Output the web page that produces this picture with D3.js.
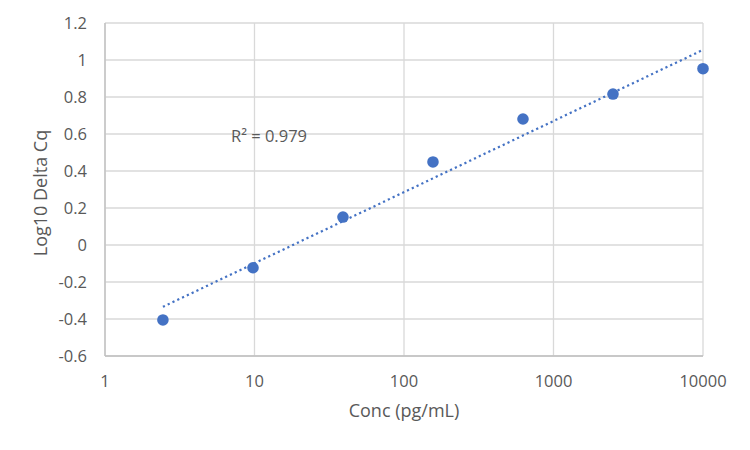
<!DOCTYPE html>
<html><head><meta charset="utf-8">
<script src="https://cdn.jsdelivr.net/npm/d3@7"></script>
<style>body{margin:0;background:#fff}svg{display:block}</style>
</head><body>
<svg id="c" width="750" height="450"></svg>
<script>
const conc = [2.44, 9.77, 39.06, 156.25, 625, 2500, 10000];
const log10DeltaCq = [-0.405, -0.123, 0.151, 0.449, 0.681, 0.816, 0.953];
const xTicks = [1, 10, 100, 1000, 10000];
const yTicks = [-0.6, -0.4, -0.2, 0, 0.2, 0.4, 0.6, 0.8, 1, 1.2];
const r2Label = "R² = 0.979";

const svg = d3.select("#c");
const L = 105, R = 703, T = 23, B = 356;
const x = d3.scaleLog().domain([1, 10000]).range([L, R]);
const y = d3.scaleLinear().domain([-0.6, 1.2]).range([B, T]);
const font = "'Open Sans', 'Liberation Sans', Arial, sans-serif";
const txt = "#595959";

// gridlines
svg.append("g").selectAll("line").data(yTicks).join("line")
  .attr("x1", L).attr("x2", R).attr("y1", d => y(d)).attr("y2", d => y(d))
  .attr("stroke", "#d9d9d9").attr("stroke-width", 1.3);
svg.append("g").selectAll("line").data(xTicks).join("line")
  .attr("x1", d => x(d)).attr("x2", d => x(d)).attr("y1", T).attr("y2", B)
  .attr("stroke", "#d9d9d9").attr("stroke-width", 1.3);

// axes lines
svg.append("line").attr("x1", L).attr("x2", L).attr("y1", T).attr("y2", B).attr("stroke", "#bfbfbf").attr("stroke-width", 1.3);
svg.append("line").attr("x1", L).attr("x2", R).attr("y1", B).attr("y2", B).attr("stroke", "#bfbfbf").attr("stroke-width", 1.3);

// tick labels
svg.append("g").selectAll("text").data(yTicks).join("text")
  .attr("x", 87).attr("y", d => y(d)).attr("dy", "0.35em").attr("text-anchor", "end")
  .attr("font-family", font).attr("font-size", 16.5).attr("fill", txt)
  .text(d => String(+d.toFixed(1)));
svg.append("g").selectAll("text").data(xTicks).join("text")
  .attr("x", d => x(d)).attr("y", 381).attr("dy", "0.35em").attr("text-anchor", "middle")
  .attr("font-family", font).attr("font-size", 16.5).attr("fill", txt)
  .text(d => String(d));

// axis titles
svg.append("text").attr("x", 404).attr("y", 411).attr("dy", "0.35em").attr("text-anchor", "middle")
  .attr("font-family", font).attr("font-size", 18).attr("fill", txt).text("Conc (pg/mL)");
svg.append("text").attr("transform", "translate(41,193) rotate(-90)").attr("dy", "0.35em").attr("text-anchor", "middle")
  .attr("font-family", font).attr("font-size", 18).attr("fill", txt).text("Log10 Delta Cq");

// trendline (least squares on log10 x)
const lx = conc.map(Math.log10);
const mx = d3.mean(lx), my = d3.mean(log10DeltaCq);
const slope = d3.sum(lx, (v, i) => (v - mx) * (log10DeltaCq[i] - my)) / d3.sum(lx, v => (v - mx) ** 2);
const icpt = my - slope * mx;
const xEnds = [conc[0], 10000];
svg.append("line")
  .attr("x1", x(xEnds[0])).attr("y1", y(icpt + slope * Math.log10(xEnds[0])))
  .attr("x2", x(xEnds[1])).attr("y2", y(icpt + slope * Math.log10(xEnds[1])))
  .attr("stroke", "#4472c4").attr("stroke-width", 2.2).attr("stroke-dasharray", "2.2,3.1");

// points
svg.append("g").selectAll("circle").data(conc).join("circle")
  .attr("cx", d => x(d)).attr("cy", (d, i) => y(log10DeltaCq[i])).attr("r", 5.8)
  .attr("fill", "#4472c4");

// R2 label
svg.append("text").attr("x", 231).attr("y", 136).attr("dy", "0.35em")
  .attr("font-family", font).attr("font-size", 16.5).attr("fill", txt).text(r2Label);
</script>
</body></html>
